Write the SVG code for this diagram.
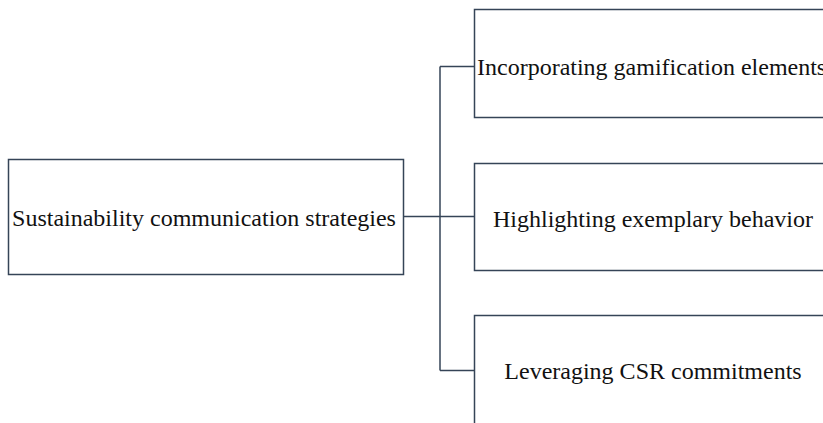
<svg xmlns="http://www.w3.org/2000/svg" width="823" height="423" viewBox="0 0 823 423">
<style>
.box{fill:#ffffff;stroke:#354457;stroke-width:1.5}
.lbl{font-family:"Liberation Serif","Times New Roman",serif;font-size:24px;fill:#111111}
.edge{fill:none;stroke:#354457;stroke-width:1.5}
</style>
<rect width="823" height="423" fill="#ffffff"/>
<g id="connectors">
<path class="edge" d="M404 216.5H440"/>
<path class="edge" d="M440 66.5V370.5"/>
<path class="edge" d="M440 66.5H474.5"/>
<path class="edge" d="M440 216.5H474.5"/>
<path class="edge" d="M440 370.5H474.5"/>
</g>
<g id="root">
<rect class="box" x="8.5" y="159.5" width="395" height="115"/>
<text class="lbl" x="204" y="226" text-anchor="middle">Sustainability communication strategies</text>
</g>
<g id="n1">
<rect class="box" x="474.5" y="9.5" width="360" height="108"/>
<text class="lbl" x="477" y="75">Incorporating gamification elements</text>
</g>
<g id="n2">
<rect class="box" x="474.5" y="163.5" width="360" height="107"/>
<text class="lbl" x="653" y="227" text-anchor="middle">Highlighting exemplary behavior</text>
</g>
<g id="n3">
<rect class="box" x="474.5" y="315.5" width="360" height="120"/>
<text class="lbl" x="653" y="379" text-anchor="middle">Leveraging CSR commitments</text>
</g>
</svg>
